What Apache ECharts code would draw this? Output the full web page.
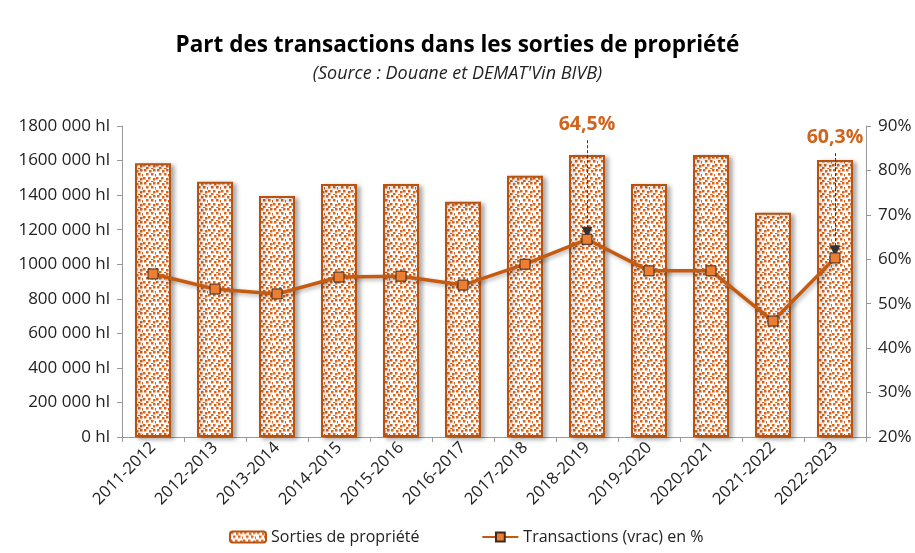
<!DOCTYPE html>
<html><head><meta charset="utf-8">
<script src="https://cdn.jsdelivr.net/npm/echarts@6/dist/echarts.min.js"></script>
<style>html,body{margin:0;padding:0;background:#fff}#c{width:915px;height:553px}</style>
</head><body><div id="c"></div>
<script>
const categories = ['2011-2012','2012-2013','2013-2014','2014-2015','2015-2016','2016-2017','2017-2018','2018-2019','2019-2020','2020-2021','2021-2022','2022-2023'];
const sorties = [1585000,1478000,1395000,1465000,1465000,1362000,1512000,1632000,1465000,1632000,1298000,1603000];
const transactions = [56.7,53.3,52.2,56.0,56.2,54.2,58.9,64.5,57.4,57.4,46.1,60.3];
const annotated = [7, 11];
const annotationTop = [86.8, 83.9];

const FONT = '"Open Sans", sans-serif';
// dotted pattern tile
const tile = document.createElement('canvas');
tile.width = 13; tile.height = 13;
const tc = tile.getContext('2d');
tc.fillStyle = '#fff'; tc.fillRect(0,0,13,13);
tc.fillStyle = '#D9661C';
[[1,0],[6,1],[10,0],[3,4],[8,4],[12,5],[0,8],[5,8],[10,9],[3,11],[8,12]].forEach(p=>tc.fillRect(p[0],p[1],2.5,2.5));

const chart = echarts.init(document.getElementById('c'), null, {renderer:'canvas'});
const fmtHl = v => (v >= 1000000 ? Math.floor(v/1000000) + '' + String(Math.floor((v%1000000)/1000)).padStart(3,'0') + ' 000 hl' : v === 0 ? '0 hl' : Math.floor(v/1000) + ' 000 hl');

chart.setOption({
  animation:false,
  title:{text:'Part des transactions dans les sorties de propriété', subtext:"(Source : Douane et DEMAT'Vin BIVB)", left:'center', top:29, itemGap:8,
    textStyle:{fontFamily:FONT, fontSize:22.5, fontWeight:'bold', color:'#000'},
    subtextStyle:{fontFamily:FONT, fontSize:18, fontStyle:'italic', color:'#222'}},
  grid:{left:122, right:49, top:126, bottom:116},
  legend:{bottom:3, left:224, itemGap:62, itemWidth:36, itemHeight:11, textStyle:{fontFamily:FONT, fontSize:16, color:'#222'},
    data:[{name:'Sorties de propriété'},{name:'Transactions (vrac) en %'}]},
  xAxis:{type:'category', data:categories, axisLine:{lineStyle:{color:'#999'}}, axisTick:{show:true, lineStyle:{color:'#999'}},
    axisLabel:{rotate:45, fontFamily:FONT, fontSize:16.5, color:'#222', margin:8, interval:0}},
  yAxis:[
    {type:'value', min:0, max:1800000, interval:200000, splitLine:{show:false},
      axisLine:{show:true, lineStyle:{color:'#999'}}, axisTick:{show:true, lineStyle:{color:'#999'}},
      axisLabel:{formatter:fmtHl, fontFamily:FONT, fontSize:17, color:'#222', margin:12}},
    {type:'value', min:20, max:90, interval:10, position:'right', splitLine:{show:false},
      axisLine:{show:true, lineStyle:{color:'#999'}}, axisTick:{show:true, lineStyle:{color:'#999'}},
      axisLabel:{formatter:'{value}%', fontFamily:FONT, fontSize:17, color:'#222', margin:12}}
  ],
  series:[
    {name:'Sorties de propriété', type:'bar', data:sorties, barWidth:36,
      itemStyle:{color:{image:tile, repeat:'repeat'}, borderColor:'#B8520F', borderWidth:2,
        shadowBlur:5, shadowOffsetX:3, shadowOffsetY:2, shadowColor:'rgba(0,0,0,0.35)'}},
    {name:'Transactions (vrac) en %', type:'line', yAxisIndex:1, data:transactions,
      symbol:'rect', symbolSize:10, z:5,
      lineStyle:{color:'#C55A11', width:3.5, shadowBlur:4, shadowOffsetX:2, shadowOffsetY:2, shadowColor:'rgba(0,0,0,0.3)'},
      itemStyle:{color:'#ED7D31', borderColor:'#3a2a20', borderWidth:1},
      markLine:{silent:true, symbol:['none','triangle'], symbolSize:[11,11],
        lineStyle:{color:'#333', width:1, type:[3,2]}, label:{show:false},
        data: annotated.map((i,k) => [{coord:[i, annotationTop[k]]}, {coord:[i, transactions[i] + 1.6]}])},
      markPoint:{silent:true, symbol:'rect', symbolSize:1, itemStyle:{color:'rgba(0,0,0,0)'},
        label:{show:true, position:'top', distance:5, fontFamily:FONT, fontSize:19.5, fontWeight:'bold', color:'#D0641C',
          formatter:p => String(p.value).replace('.', ',') + '%'},
        data: annotated.map((i,k) => ({coord:[i, annotationTop[k]], value:transactions[i]}))}
    }
  ]
});
</script></body></html>
